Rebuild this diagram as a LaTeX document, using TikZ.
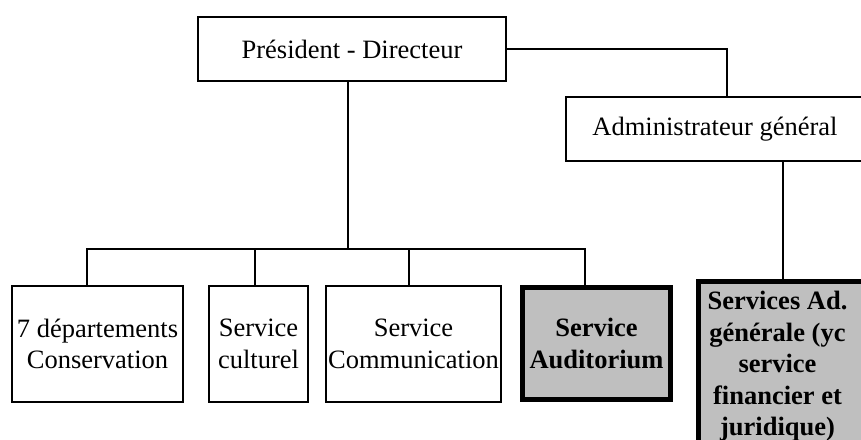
\documentclass[tikz,border=0pt]{standalone}
\usepackage{fontspec}
\setmainfont{Liberation Serif}

\begin{document}
\begin{tikzpicture}[x=1pt, y=-1pt,
	box/.style={draw, line width=2pt, inner sep=0pt, align=center, font=\fontsize{26.5}{31.5}\selectfont},
	hibox/.style={box, line width=5pt, fill=black!25, font=\fontsize{26.5}{31.5}\selectfont\bfseries},
	hitext/.style={inner sep=0pt, align=center, font=\fontsize{26.5}{31.5}\selectfont\bfseries},
	link/.style={line width=2pt}]
	
	\clip (0,0) rectangle (861,439);
	
	% Direction
	\node[box, minimum width=308pt, minimum height=64pt] (pres) at (352,49) {Président - Directeur};
	\node[box, minimum width=298pt, minimum height=64pt] (admin) at (715,129) {Administrateur général};
	
	% Services
	\node[box, minimum width=171pt, minimum height=116pt] (dept) at (97.5,344) {7 départements\\Conservation};
	\node[box, minimum width=99pt, minimum height=116pt] (cult) at (258.5,344) {Service\\culturel};
	\node[box, minimum width=175pt, minimum height=116pt] (comm) at (413.5,344) {Service\\Communication};
	\node[hibox, minimum width=148pt, minimum height=112pt] (audi) at (596.5,343.5) {Service\\Auditorium};
	\node[hibox, minimum width=176pt, minimum height=170pt,
		label={[hitext, xshift=-9pt]center:{Services Ad.\\générale (yc\\service\\financier et\\juridique)}}] (servad) at (786.5,366.5) {};
	
	% Links
	\coordinate (bus) at (348,249);
	\draw[link] ([xshift=-4pt]pres.south) -- (bus);
	\foreach \n/\s in {dept/-10.5, cult/-3.5, comm/-4.5, audi/-11.5}
		\draw[link] (bus) -| ([xshift=\s pt]\n.north);
	\draw[link] (pres.east) -| ([xshift=12pt]admin.north);
	\draw[link] ([xshift=68pt]admin.south) -- ([xshift=68pt]admin.south |- servad.north);
	
\end{tikzpicture}
\end{document}
